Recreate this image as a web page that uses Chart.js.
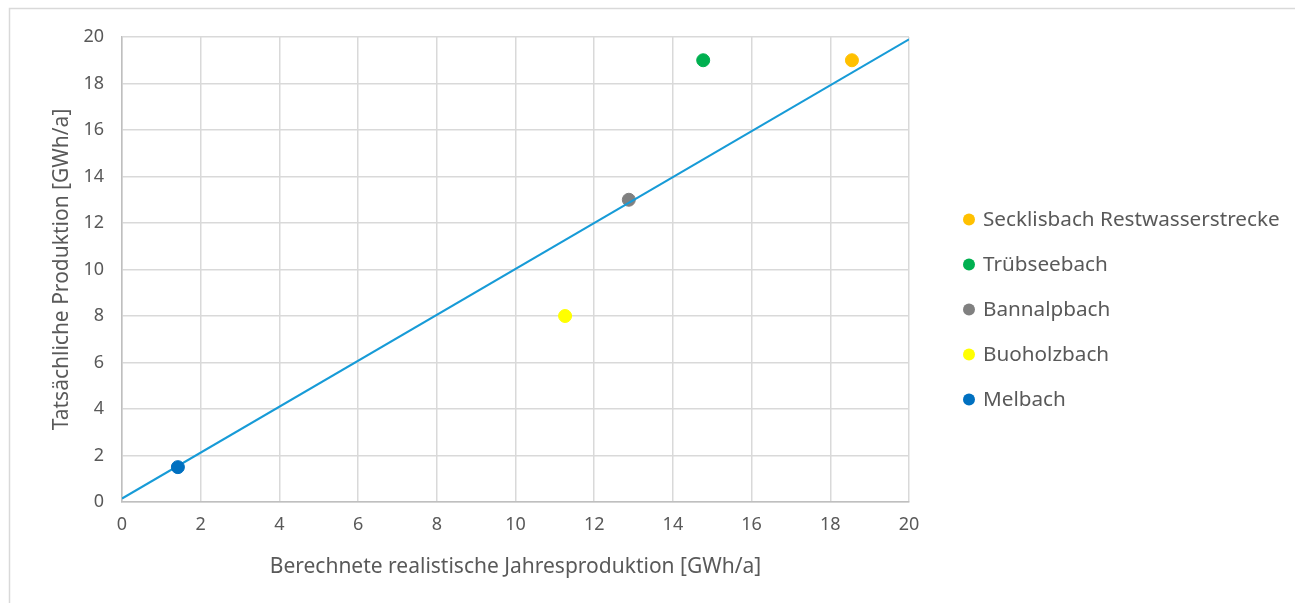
<!DOCTYPE html>
<html>
<head>
<meta charset="utf-8">
<script src="https://cdn.jsdelivr.net/npm/chart.js@4/dist/chart.umd.min.js"></script>
<style>
  html, body { margin: 0; padding: 0; background: #fff; }
  #wrap { position: relative; width: 1295px; height: 603px; }
</style>
</head>
<body>
<div id="wrap"><canvas id="chart"></canvas></div>
<script>
const stations = ['Secklisbach Restwasserstrecke', 'Trübseebach', 'Bannalpbach', 'Buoholzbach', 'Melbach'];
const calculated = [18.55, 14.77, 12.88, 11.26, 1.42];   // Berechnete realistische Jahresproduktion
const actual = [19, 19, 13, 8, 1.5];                       // Tatsächliche Produktion
const stationColors = ['#ffc000', '#00b050', '#808080', '#ffff00', '#0070c0'];

const trendX = [0, 20];
const trendY = [0.15, 19.9];

const xTicks = [0, 2, 4, 6, 8, 10, 12, 14, 16, 18, 20];
const yTicks = [0, 2, 4, 6, 8, 10, 12, 14, 16, 18, 20];

const TEXT = '#595959';
const GRID = '#d9d9d9';
const FONT = "'Noto Sans', sans-serif";

const datasets = stations.map((name, i) => ({
  type: 'scatter',
  label: name,
  data: [{ x: calculated[i], y: actual[i] }],
  backgroundColor: stationColors[i],
  borderColor: stationColors[i],
  pointRadius: 6.5,
  pointHoverRadius: 6.5,
  pointStyle: 'circle',
  order: name === 'Bannalpbach' ? 3 : 1
}));

datasets.push({
  type: 'line',
  label: 'Trend',
  isTrend: true,
  data: trendX.map((x, i) => ({ x, y: trendY[i] })),
  borderColor: '#179bd7',
  borderWidth: 2,
  pointRadius: 0,
  fill: false,
  order: 2
});

// Rahmen oben/links wie im Excel-Export
const frame = {
  id: 'frame',
  beforeDraw(chart) {
    const ctx = chart.ctx;
    ctx.save();
    ctx.strokeStyle = '#d9d9d9';
    ctx.lineWidth = 1.5;
    ctx.strokeRect(9.5, 8.5, 1400, 700);
    ctx.restore();
  }
};

// Legende rechts neben der Zeichenfläche (eingebaute Legende wird zu schmal)
const sideLegend = {
  id: 'sideLegend',
  afterDraw(chart) {
    const ctx = chart.ctx;
    const items = chart.data.datasets.filter(d => !d.isTrend);
    const x = chart.chartArea.right + 60;
    const step = 45;
    const y0 = (chart.chartArea.top + chart.chartArea.bottom) / 2 + 40 - step * (items.length - 1) / 2;
    ctx.save();
    ctx.font = `20.7px ${FONT}`;
    ctx.textBaseline = 'middle';
    items.forEach((d, i) => {
      const y = y0 + i * step;
      ctx.beginPath();
      ctx.arc(x, y, 6, 0, Math.PI * 2);
      ctx.fillStyle = d.backgroundColor;
      ctx.fill();
      ctx.fillStyle = TEXT;
      ctx.fillText(d.label, x + 14, y + 1);
    });
    ctx.restore();
  }
};

new Chart(document.getElementById('chart'), {
  type: 'scatter',
  data: { datasets },
  plugins: [frame, sideLegend],
  options: {
    responsive: true,
    maintainAspectRatio: false,
    animation: false,
    layout: { padding: { left: 45, top: 37, right: 386, bottom: 19 } },
    scales: {
      x: {
        type: 'linear',
        min: 0,
        max: 20,
        afterBuildTicks: s => { s.ticks = xTicks.map(v => ({ value: v })); },
        afterFit: s => { s.height = 82; },
        grid: { color: GRID, lineWidth: 1.5, drawTicks: false },
        border: { color: '#bfbfbf', width: 1.5 },
        ticks: { color: TEXT, font: { family: FONT, size: 18 }, padding: 12 },
        title: {
          display: true,
          text: 'Berechnete realistische Jahresproduktion [GWh/a]',
          color: TEXT,
          font: { family: FONT, size: 21 },
          padding: { top: 10 }
        }
      },
      y: {
        type: 'linear',
        min: 0,
        max: 20,
        afterBuildTicks: s => { s.ticks = yTicks.map(v => ({ value: v })); },
        afterFit: s => { s.width = 77; },
        grid: { color: GRID, lineWidth: 1.5, drawTicks: false },
        border: { color: '#bfbfbf', width: 1.5 },
        ticks: { color: TEXT, font: { family: FONT, size: 18 }, padding: 18 },
        title: {
          display: true,
          text: 'Tatsächliche Produktion [GWh/a]',
          color: TEXT,
          font: { family: FONT, size: 21 },
          padding: { bottom: 6 }
        }
      }
    },
    plugins: {
      tooltip: { enabled: false },
      legend: { display: false }
    }
  }
});
</script>
</body>
</html>
